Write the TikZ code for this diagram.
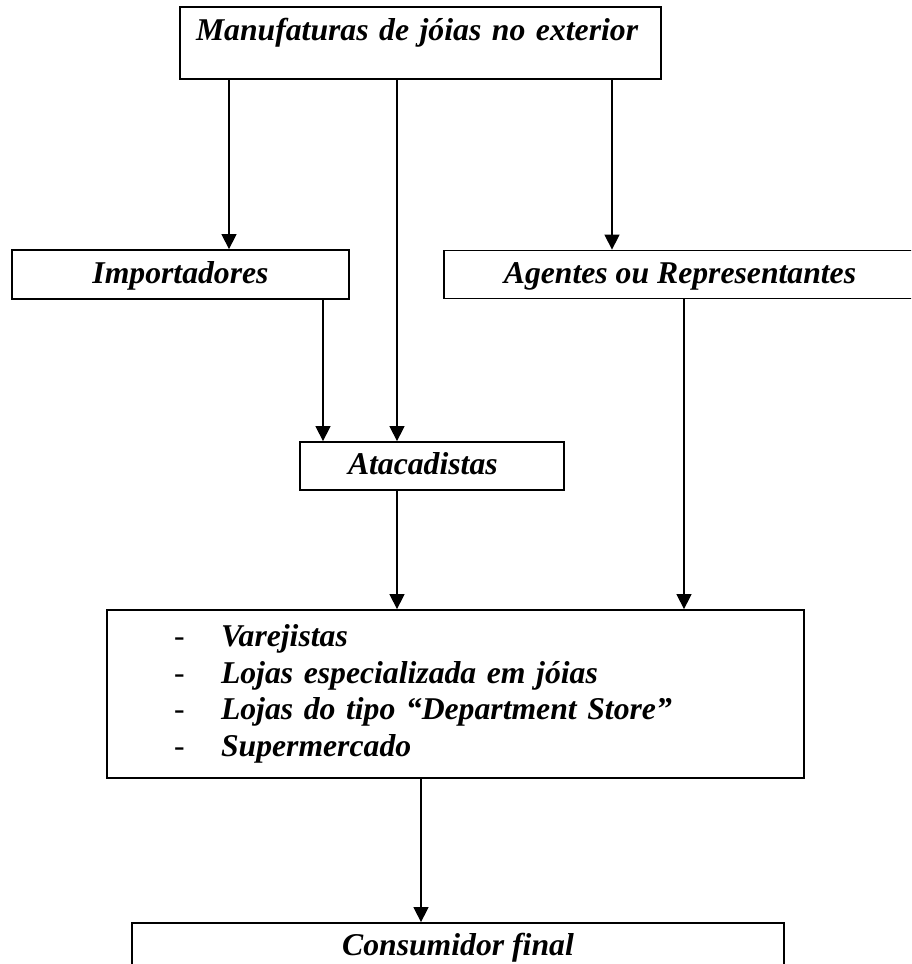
\documentclass[tikz,border=0pt]{standalone}
\usepackage{fontspec}
\setmainfont{Liberation Serif}
\usetikzlibrary{arrows.meta}

\begin{document}
\begin{tikzpicture}[x=1pt, y=-1pt]
        % ================= estilos =================
        \tikzset{
            caixa/.style={draw=black, line width=1.8pt, fill=white, inner sep=0pt,
                font=\fontsize{31.7}{36.7}\selectfont\bfseries\itshape,
                text height=24pt, text depth=6.5pt},
            seta/.style={line width=1.4pt, black, -{Triangle[width=15pt, length=15pt]}}
        }

        % moldura da figura (as caixas da direita e de baixo saem dela)
        \useasboundingbox (0,0) rectangle (911,964);
        \clip (0,0) rectangle (911,964);

        % ================= caixas =================
        \node[caixa, minimum width=481pt, text width=449pt, inner xsep=16pt, align=left,
              text height=33pt, text depth=39pt] (manuf) at (420.5,43) {Manufaturas de jóias no exterior};
        \node[caixa, minimum width=337pt, minimum height=49pt] (imp) at (180.5,274.5) {Importadores};
        \node[caixa, minimum width=472pt, minimum height=48pt] (agent) at (680,274.5) {Agentes ou Representantes};
        \node[caixa, minimum width=264pt, minimum height=48pt, text width=168pt, inner xsep=48pt,
              align=left] (atac) at (432,466) {Atacadistas};
        \node[caixa, minimum width=697pt, minimum height=168pt, text width=563pt, inner xsep=67pt,
              align=left, text height={}, text depth={}] (varejo) at (455.5,694) {%
            \makebox[47pt][l]{\upshape\mdseries -}Varejistas\\
            \makebox[47pt][l]{\upshape\mdseries -}Lojas especializada em jóias\\
            \makebox[47pt][l]{\upshape\mdseries -}Lojas do tipo “Department Store”\\
            \makebox[47pt][l]{\upshape\mdseries -}Supermercado};
        \node[caixa, minimum width=652pt, minimum height=48pt] (consum) at (458,947) {Consumidor final};

        % ================= setas =================
        \coordinate (s1) at ([xshift=-191.5pt]manuf.south);
        \coordinate (s2) at ([xshift=-23.5pt]manuf.south);
        \coordinate (s3) at ([xshift=191.5pt]manuf.south);
        \coordinate (s4) at ([xshift=142.5pt]imp.south);
        \coordinate (s5) at ([xshift=4pt]agent.south);
        \coordinate (s6) at ([xshift=-35pt]atac.south);
        \coordinate (s7) at ([xshift=-34.5pt]varejo.south);

        \draw[seta] (s1) -- (s1 |- imp.north);
        \draw[seta] (s2) -- (s2 |- atac.north);
        \draw[seta] (s3) -- (s3 |- agent.north);
        \draw[seta] (s4) -- (s4 |- atac.north);
        \draw[seta] (s5) -- (s5 |- varejo.north);
        \draw[seta] (s6) -- (s6 |- varejo.north);
        \draw[seta] (s7) -- (s7 |- consum.north);

\end{tikzpicture}
\end{document}
